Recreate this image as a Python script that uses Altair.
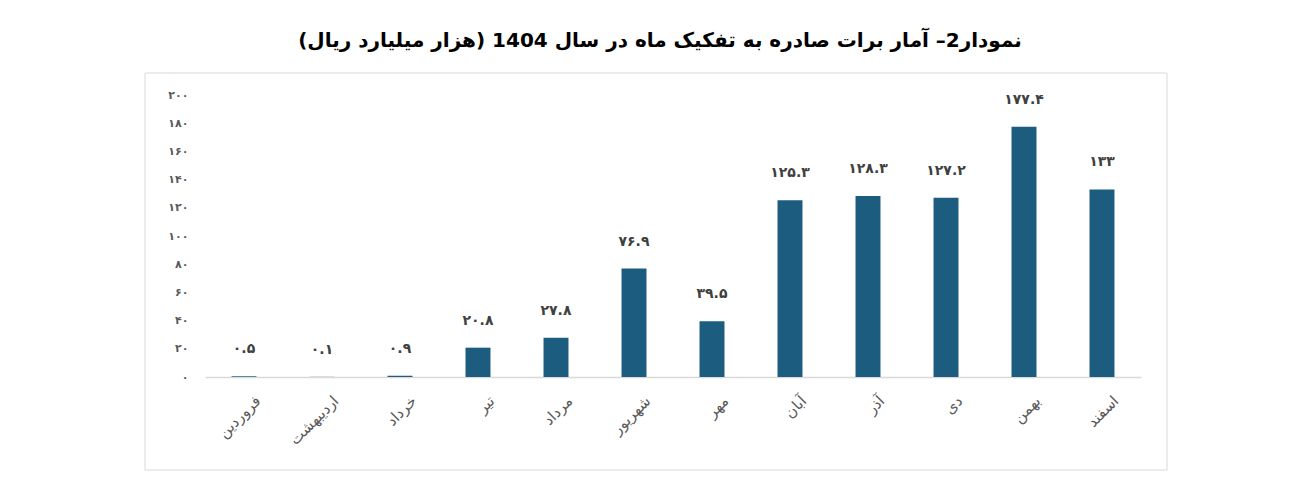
import altair as alt
import pandas as pd

months = ["فروردین", "اردیبهشت", "خرداد", "تیر", "مرداد", "شهریور",
          "مهر", "آبان", "آذر", "دی", "بهمن", "اسفند"]
values = [0.5, 0.1, 0.9, 20.8, 27.8, 76.9, 39.5, 125.3, 128.3, 127.2, 177.4, 133]
value_labels = ["۰.۵", "۰.۱", "۰.۹", "۲۰.۸", "۲۷.۸", "۷۶.۹", "۳۹.۵",
                "۱۲۵.۳", "۱۲۸.۳", "۱۲۷.۲", "۱۷۷.۴", "۱۳۳"]
y_ticks = [0, 20, 40, 60, 80, 100, 120, 140, 160, 180, 200]
y_tick_labels = ["۰", "۲۰", "۴۰", "۶۰", "۸۰", "۱۰۰", "۱۲۰", "۱۴۰", "۱۶۰", "۱۸۰", "۲۰۰"]
title_text = "\u200fنمودار2– آمار برات صادره به تفکیک ماه در سال 1404 (هزار میلیارد ریال)\u200f"

df = pd.DataFrame({"month": months, "value": values, "label": value_labels})

W, H = 936, 282
FONT = "DejaVu Sans"
BAR = "#1b5c7f"

label_map = "{" + ",".join(f"'{v}':'{l}'" for v, l in zip(y_ticks, y_tick_labels)) + "}"

x_enc = alt.X("month:N", sort=months,
              scale=alt.Scale(paddingInner=0.68, paddingOuter=0.34),
              axis=alt.Axis(title=None, labelAngle=-45, ticks=False,
                            domainColor="#d9d9d9", domainWidth=1.5,
                            labelFont=FONT, labelFontSize=15, labelColor="#595959",
                            labelPadding=16, labelOffset=9))
y_enc = alt.Y("value:Q", scale=alt.Scale(domain=[0, 200]),
              axis=alt.Axis(title=None, values=y_ticks, grid=False, domain=False,
                            ticks=False, labelFont=FONT, labelFontSize=11,
                            labelFontWeight="bold", labelColor="#595959",
                            labelPadding=17, labelExpr=f"{label_map}[datum.label]"))

base = alt.Chart(df)

bars = base.mark_bar(color=BAR).encode(x=x_enc, y=y_enc)
texts = base.mark_text(dy=-27, font=FONT, fontSize=14, fontWeight="bold",
                       color="#404040").encode(x=x_enc, y=y_enc, text="label:N")

frame = alt.Chart(pd.DataFrame({"f": [0]})).mark_rect(
    fill=None, stroke="#d9d9d9", strokeWidth=1
).encode(x=alt.value(-60), x2=alt.value(W + 26),
         y=alt.value(-22), y2=alt.value(H + 93))

chart = alt.layer(frame, bars, texts).properties(
    width=W, height=H,
    background="white",
    title=alt.TitleParams(title_text, font=FONT, fontSize=20, fontWeight="bold",
                          color="#000000", anchor="middle", frame="group",
                          offset=22, dx=-13),
    autosize=alt.AutoSizeParams(type="none"),
    padding={"left": 197, "top": 87, "right": 150, "bottom": 100},
).configure_view(strokeWidth=0, stroke="transparent")

chart.save("out.html", embed_options={"renderer": "svg", "actions": False})
